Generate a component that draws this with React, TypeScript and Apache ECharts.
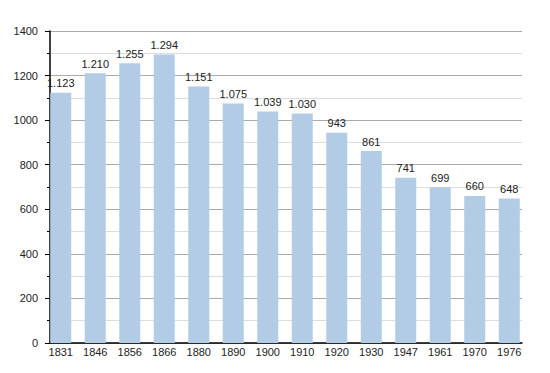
import React, { useEffect, useRef } from "react";
import * as echarts from "echarts";

const years = ["1831", "1846", "1856", "1866", "1880", "1890", "1900", "1910", "1920", "1930", "1947", "1961", "1970", "1976"];
const population = [1123, 1210, 1255, 1294, 1151, 1075, 1039, 1030, 943, 861, 741, 699, 660, 648];
const yTicks = [0, 200, 400, 600, 800, 1000, 1200, 1400];

const fmt = (v: number) => {
  if (v >= 1000) {
    const s = String(v);
    return s.slice(0, s.length - 3) + "." + s.slice(s.length - 3);
  }
  return String(v);
};

export default function App() {
  const ref = useRef<HTMLDivElement>(null);
  useEffect(() => {
    document.body.style.margin = "0";
    if (!ref.current) return;
    const chart = echarts.init(ref.current, undefined, { renderer: "svg" });
    const font = "'Liberation Sans', Arial, sans-serif";
    chart.setOption({
      animation: false,
      backgroundColor: "#ffffff",
      grid: [
        { left: 50, right: 28, top: 31, bottom: 30 },
        { left: 43.5, right: 23.5, top: 31, bottom: 30 },
      ],
      xAxis: [
        {
          type: "category",
          gridIndex: 0,
          data: years,
          axisLine: { show: true, lineStyle: { color: "#000", width: 1.5 } },
          axisTick: { show: false },
          axisLabel: { show: false },
          splitLine: { show: false },
        },
        {
          type: "category",
          gridIndex: 1,
          data: years,
          axisLine: { show: false },
          axisTick: { show: false },
          axisLabel: { show: true, interval: 0, color: "#222", fontSize: 11, fontFamily: font, margin: 3 },
          splitLine: { show: false },
        },
      ],
      yAxis: [
        {
          type: "value",
          gridIndex: 0,
          min: yTicks[0],
          max: yTicks[yTicks.length - 1],
          interval: 200,
          axisLine: { show: true, lineStyle: { color: "#000", width: 1.5 } },
          axisTick: { show: true, length: 5, lineStyle: { color: "#000" } },
          minorTick: { show: true, splitNumber: 2, length: 3, lineStyle: { color: "#000" } },
          axisLabel: {
            color: "#222",
            fontSize: 11,
            fontFamily: font,
            margin: 12,
            formatter: (v: number) => String(v),
          },
          splitLine: { show: true, lineStyle: { color: "#aaaaaa", width: 1 } },
          minorSplitLine: { show: true, lineStyle: { color: "#dddddd", width: 1 } },
        },
        {
          type: "value",
          gridIndex: 1,
          min: yTicks[0],
          max: yTicks[yTicks.length - 1],
          interval: 200,
          show: false,
          splitLine: { show: false },
        },
      ],
      series: [
        {
          type: "bar",
          xAxisIndex: 1,
          yAxisIndex: 1,
          data: population,
          barWidth: 21,
          itemStyle: { color: "#b3cce6" },
          label: {
            show: true,
            position: "top",
            distance: 4,
            color: "#222",
            fontSize: 11,
            fontFamily: font,
            formatter: (p: any) => fmt(p.value),
          },
        },
      ],
    });
    return () => chart.dispose();
  }, []);
  return <div ref={ref} style={{ width: 550, height: 373 }} />;
}
